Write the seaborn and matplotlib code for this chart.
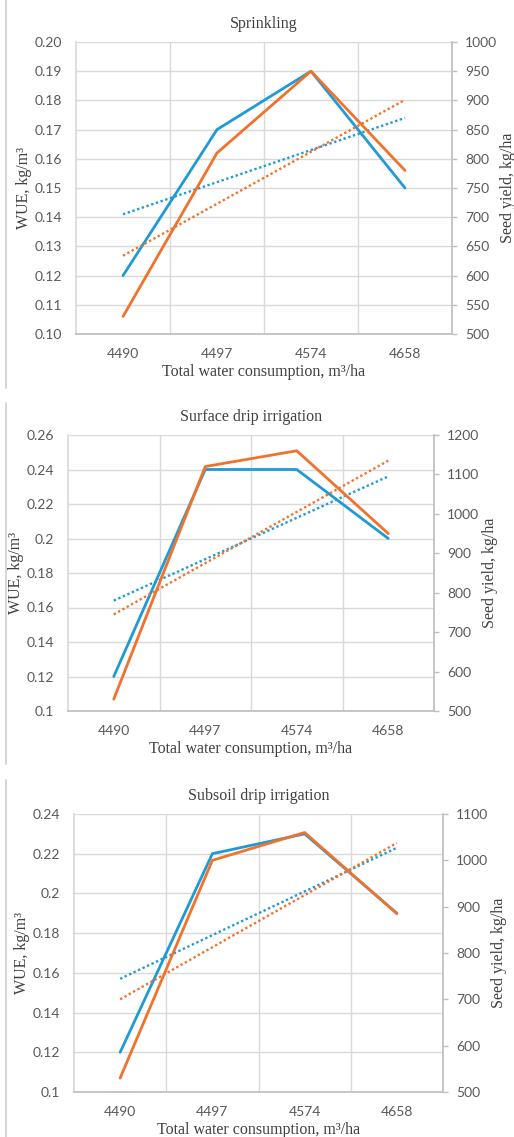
import numpy as np
import matplotlib
matplotlib.use("Agg")
import matplotlib.pyplot as plt
import matplotlib.ticker as ticker
from matplotlib.lines import Line2D
import seaborn as sns

# categories (total water consumption, m3/ha)
water = ["4490", "4497", "4574", "4658"]

titles = ["Sprinkling", "Surface drip irrigation", "Subsoil drip irrigation"]

# WUE, kg/m3 (left axis)
wue_sprinkling = [0.12, 0.17, 0.19, 0.15]
wue_surface = [0.12, 0.24, 0.24, 0.20]
wue_subsoil = [0.12, 0.22, 0.23, 0.19]

# seed yield, kg/ha (right axis)
yield_sprinkling = [530, 810, 950, 780]
yield_surface = [530, 1120, 1160, 950]
yield_subsoil = [530, 1000, 1060, 885]

# axis ranges (min, max, step)
wue_ranges = [(0.10, 0.20, 0.01), (0.10, 0.26, 0.02), (0.10, 0.24, 0.02)]
yield_ranges = [(500, 1000, 50), (500, 1200, 100), (500, 1100, 100)]
wue_formats = ["%.2f", "%g", "%g"]

BLUE = "#1F9AD6"
ORANGE = "#F0722C"
GRID = "#d9d9d9"
TICK = "#595959"
TEXT = "#404040"

W, H = 514, 1137
# axes boxes in pixels: left, top, right, bottom
boxes = [(76, 42, 452, 334), (68, 435, 434, 711), (74, 814, 443, 1092)]
# page border segments (top, bottom) in pixels
borders = [(0, 388), (403, 764), (780, 1137)]

sns.set_theme(style="white")
plt.rcParams["font.family"] = ["Liberation Serif", "DejaVu Serif"]
tick_font = "Lato"

fig = plt.figure(figsize=(W / 100, H / 100), dpi=100)

for y0, y1 in borders:
    fig.add_artist(Line2D([6 / W, 6 / W], [1 - y0 / H, 1 - y1 / H],
                          transform=fig.transFigure, color="#cfcfcf", lw=1.2))

wue_all = [wue_sprinkling, wue_surface, wue_subsoil]
yield_all = [yield_sprinkling, yield_surface, yield_subsoil]

for i in range(3):
    l, t, r, b = boxes[i]
    ax = fig.add_axes([l / W, 1 - b / H, (r - l) / W, (b - t) / H])
    ax2 = ax.twinx()
    x = np.arange(len(water))

    # WUE on left axis
    sns.lineplot(x=x, y=wue_all[i], ax=ax, color=BLUE, lw=2)
    sns.regplot(x=x, y=np.array(wue_all[i]), ax=ax, scatter=False, ci=None, truncate=True,
                color=BLUE, line_kws=dict(ls=(0, (1, 1.1)), lw=1.7))

    # seed yield on right axis
    sns.lineplot(x=x, y=yield_all[i], ax=ax2, color=ORANGE, lw=2)
    sns.regplot(x=x, y=np.array(yield_all[i]), ax=ax2, scatter=False, ci=None, truncate=True,
                color=ORANGE, line_kws=dict(ls=(0, (1, 1.1)), lw=1.7))

    lo, hi, st = wue_ranges[i]
    ax.set_ylim(lo, hi)
    ax.set_yticks(np.arange(lo, hi + st / 2, st))
    ax.yaxis.set_major_formatter(ticker.FormatStrFormatter(wue_formats[i]))
    lo2, hi2, st2 = yield_ranges[i]
    ax2.set_ylim(lo2, hi2)
    ax2.set_yticks(np.arange(lo2, hi2 + st2 / 2, st2))

    ax.set_xlim(-0.5, len(water) - 0.5)
    ax.set_xticks(x)
    ax.set_xticklabels(water)
    ax.set_xticks(x[:-1] + 0.5, minor=True)

    ax.grid(axis="y", which="major", color=GRID, lw=1)
    ax.grid(axis="x", which="minor", color=GRID, lw=1)
    ax.grid(axis="x", which="major", visible=False)
    ax2.grid(False)

    for a in (ax, ax2):
        for s in a.spines.values():
            s.set_visible(False)
    ax.spines["left"].set_visible(True)
    ax.spines["left"].set_color(GRID)
    ax.spines["bottom"].set_visible(True)
    ax.spines["bottom"].set_color("#bfbfbf")
    ax2.spines["right"].set_visible(True)
    ax2.spines["right"].set_color("#bfbfbf")

    ax.tick_params(axis="y", which="both", length=0, pad=10, labelsize=10, labelcolor=TICK)
    ax.tick_params(axis="x", which="both", length=0, pad=10, labelsize=10, labelcolor=TICK)
    ax2.tick_params(axis="y", length=3.5, width=1, color="#bfbfbf", pad=6,
                    labelsize=10, labelcolor=TICK)
    for lab in ax.get_xticklabels() + ax.get_yticklabels() + ax2.get_yticklabels():
        lab.set_family(tick_font)

    ax.set_title(titles[i], fontsize=11.5, color=TEXT, pad=10)
    ax.set_xlabel("Total water consumption, m³/ha", fontsize=11.5, color=TEXT, labelpad=3)
    ax.set_ylabel("WUE, kg/m³", fontsize=11.5, color=TEXT, labelpad=2)
    ax2.set_ylabel("Seed yield, kg/ha", fontsize=11.5, color=TEXT, labelpad=2)

fig.savefig("out.png", dpi=100, facecolor="white")
